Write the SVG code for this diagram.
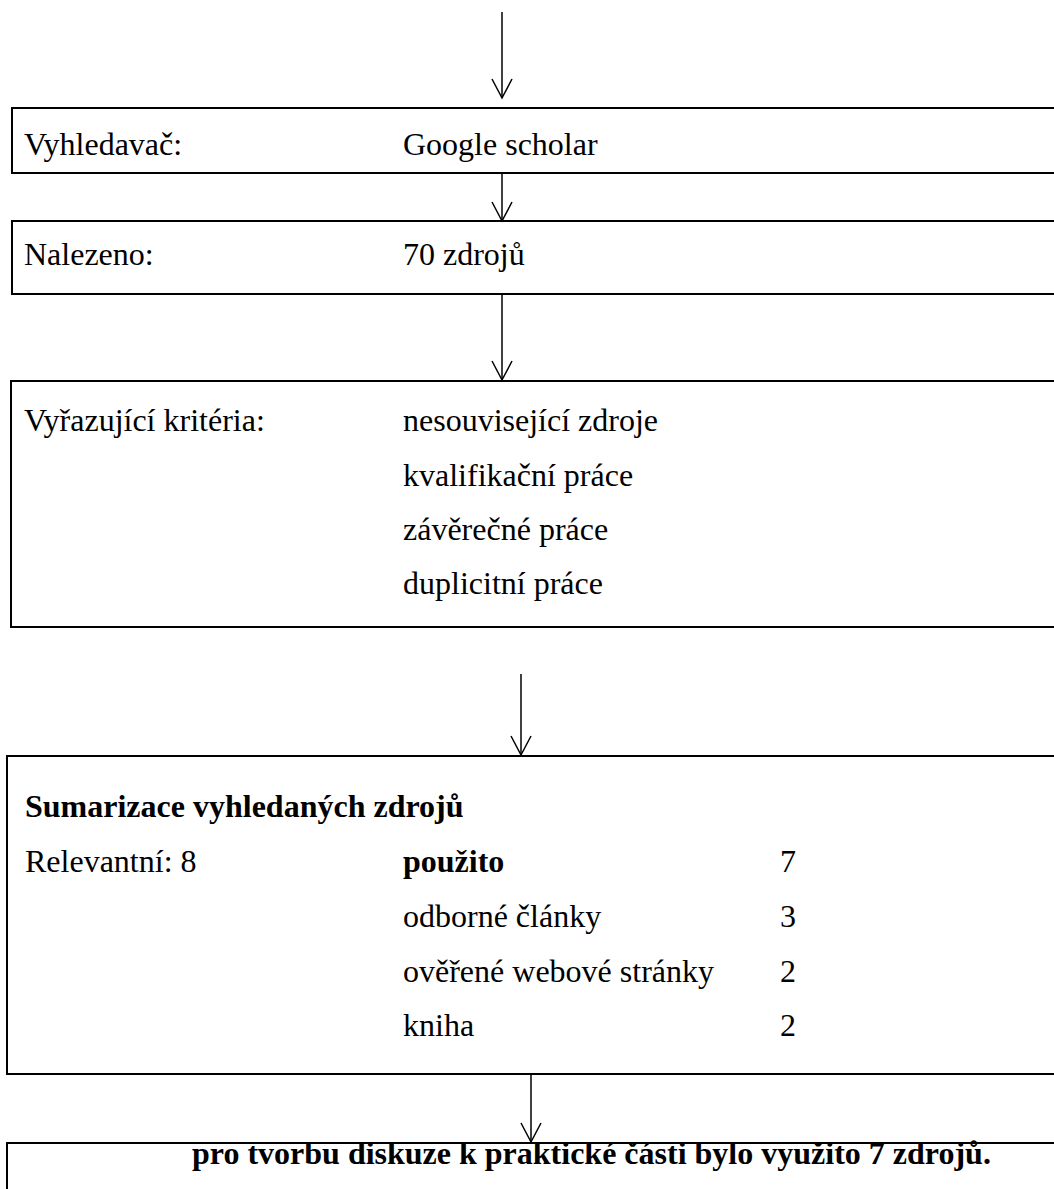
<svg xmlns="http://www.w3.org/2000/svg" width="1054" height="1189" viewBox="0 0 1054 1189">
<style>
.box{fill:none;stroke:#000;stroke-width:2}
.t{font-family:"Liberation Serif","Times New Roman",serif;font-size:32px;fill:#000}
.b{font-weight:bold}
.c{stroke:#000;stroke-width:1.5;fill:none}
</style>
<defs>
<marker id="ah" markerUnits="userSpaceOnUse" markerWidth="24" markerHeight="24" viewBox="-20 -12 24 24" refX="0" refY="0" orient="auto">
<path d="M-19,-10 L0,0 L-19,10" fill="none" stroke="#000" stroke-width="1.5"/>
</marker>
</defs>
<rect width="1054" height="1189" fill="#fff"/>
<g id="connectors">
<line class="c" x1="502" y1="12" x2="502" y2="98" marker-end="url(#ah)"/>
<line class="c" x1="502" y1="173" x2="502" y2="221" marker-end="url(#ah)"/>
<line class="c" x1="502" y1="294" x2="502" y2="380" marker-end="url(#ah)"/>
<line class="c" x1="521" y1="674" x2="521" y2="755" marker-end="url(#ah)"/>
<line class="c" x1="531" y1="1074" x2="531" y2="1142" marker-end="url(#ah)"/>
</g>
<g id="node-vyhledavac">
<rect class="box" x="12" y="108" width="1060" height="65"/>
<text class="t" x="24" y="155">Vyhledavač:</text>
<text class="t" x="403" y="155">Google scholar</text>
</g>
<g id="node-nalezeno">
<rect class="box" x="12" y="221" width="1060" height="73"/>
<text class="t" x="24" y="265">Nalezeno:</text>
<text class="t" x="403" y="265">70 zdrojů</text>
</g>
<g id="node-kriteria">
<rect class="box" x="11" y="381" width="1060" height="246"/>
<text class="t" x="24" y="431">Vyřazující kritéria:</text>
<text class="t" x="403" y="431">nesouvisející zdroje</text>
<text class="t" x="403" y="486">kvalifikační práce</text>
<text class="t" x="403" y="540">závěrečné práce</text>
<text class="t" x="403" y="594">duplicitní práce</text>
</g>
<g id="node-sumarizace">
<rect class="box" x="7" y="756" width="1060" height="318"/>
<text class="t b" x="25" y="817">Sumarizace vyhledaných zdrojů</text>
<text class="t" x="25" y="872">Relevantní: 8</text>
<text class="t b" x="403" y="872">použito</text>
<text class="t" x="780" y="872">7</text>
<text class="t" x="403" y="927">odborné články</text>
<text class="t" x="780" y="927">3</text>
<text class="t" x="403" y="982">ověřené webové stránky</text>
<text class="t" x="780" y="982">2</text>
<text class="t" x="403" y="1036">kniha</text>
<text class="t" x="780" y="1036">2</text>
</g>
<g id="node-zaver">
<rect class="box" x="7" y="1143" width="1060" height="80"/>
<text class="t b" x="192" y="1164">pro tvorbu diskuze k praktické části bylo využito 7 zdrojů.</text>
</g>
</svg>
